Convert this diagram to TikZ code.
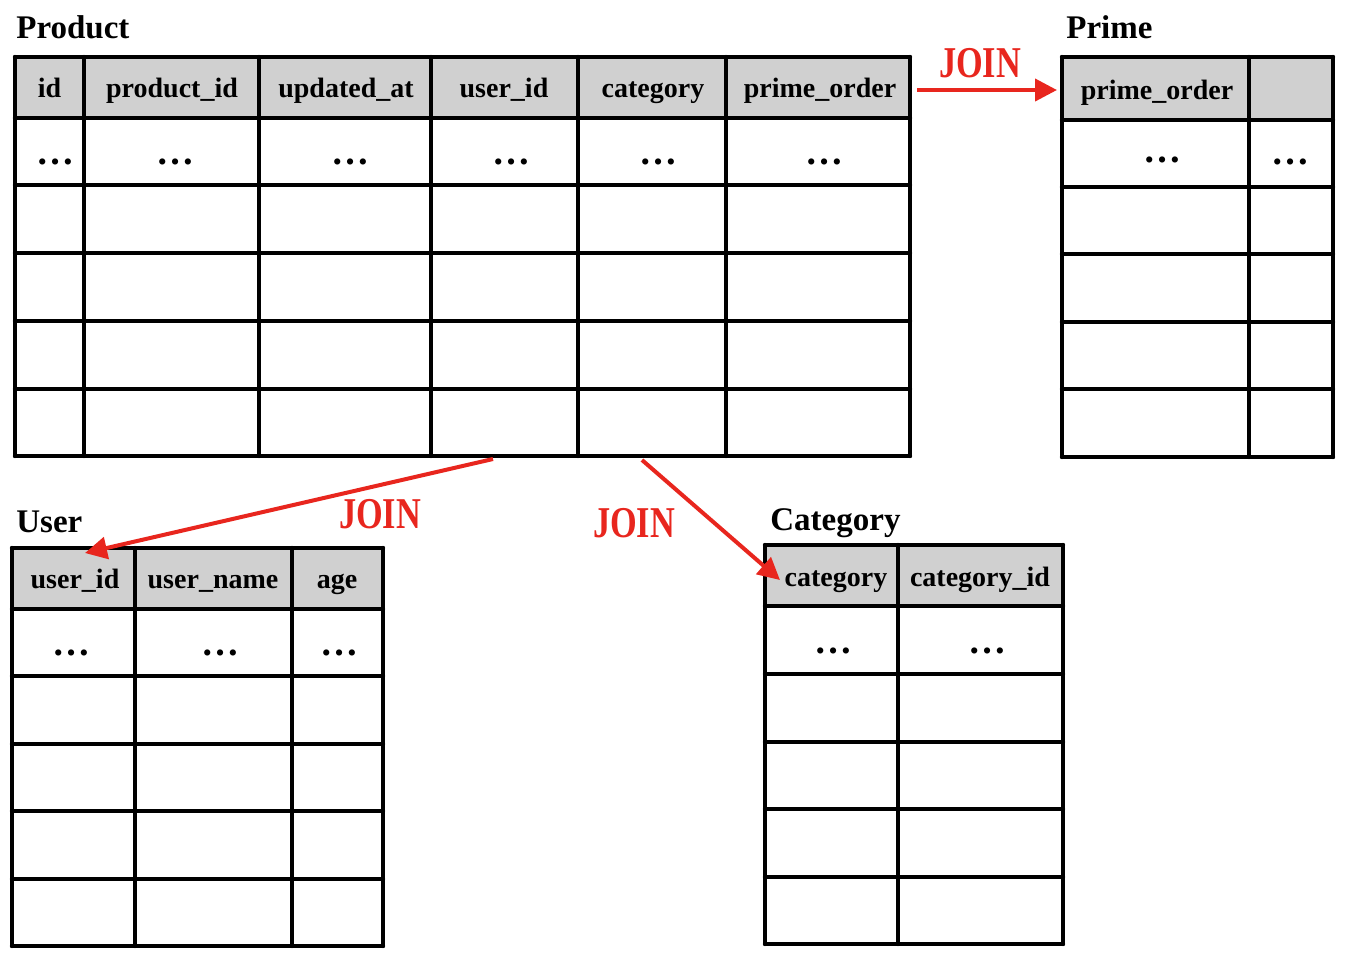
\documentclass[tikz,border=0pt]{standalone}
\usepackage{fontspec}
\setmainfont{Liberation Serif}
\usepackage{graphicx}
\usetikzlibrary{arrows.meta}
\definecolor{hdrgray}{HTML}{D0D0D0}
\definecolor{joinred}{HTML}{E8261E}
\begin{document}
\begin{tikzpicture}[x=0.5pt,y=-0.5pt,
  gridline/.style={line width=2.2pt,line cap=round,black},
  hdr/.style={font=\fontsize{14pt}{16pt}\selectfont\bfseries,inner sep=0pt,anchor=base},
  dots/.style={font=\fontsize{19pt}{20pt}\selectfont\bfseries,inner sep=0pt,anchor=base},
  ttl/.style={font=\fontsize{16.5pt}{18pt}\selectfont\bfseries,inner sep=0pt,anchor=base west},
  joinlbl/.style={font=\fontsize{22pt}{24pt}\selectfont\bfseries,text=joinred,inner sep=0pt,anchor=center},
  joinarrow/.style={draw=joinred,line width=2pt,-{Triangle[length=11pt,width=11pt]},fill=joinred}
]
\useasboundingbox (0,0) rectangle (1350,960);

% ---------- Product ----------
\fill[hdrgray] (15,57) rectangle (910,118);
\foreach \x in {15,84,259,431,578,726,910} \draw[gridline] (\x,57) -- (\x,456);
\foreach \y in {57,118,185,253,321,389,456} \draw[gridline] (15,\y) -- (910,\y);
\node[ttl] (tProduct) at (16,38) {Product};
\node[hdr] (p1) at (49.5,97) {id};
\node[hdr] (p2) at (172,97) {product\_id};
\node[hdr] (p3) at (346,97) {updated\_at};
\node[hdr] (p4) at (504,97) {user\_id};
\node[hdr] (p5) at (653,97) {category};
\node[hdr] (p6) at (820,97) {prime\_order};
\node[dots] (pd1) at (55,164) {…};
\node[dots] (pd2) at (175,164) {…};
\node[dots] (pd3) at (350,164) {…};
\node[dots] (pd4) at (511,164) {…};
\node[dots] (pd5) at (658,164) {…};
\node[dots] (pd6) at (824,164) {…};

% ---------- Prime ----------
\fill[hdrgray] (1062,57) rectangle (1333,120);
\foreach \x in {1062,1249,1333} \draw[gridline] (\x,57) -- (\x,457);
\foreach \y in {57,120,187,254,322,389,457} \draw[gridline] (1062,\y) -- (1333,\y);
\node[ttl] (tPrime) at (1066,38) {Prime};
\node[hdr] (r1) at (1157,99) {prime\_order};
\node[dots] (rd1) at (1162,162) {…};
\node[dots] (rd2) at (1290,164) {…};

% ---------- User ----------
\fill[hdrgray] (12,548) rectangle (383,609);
\foreach \x in {12,135,292,383} \draw[gridline] (\x,548) -- (\x,946);
\foreach \y in {548,609,676,744,811,879,946} \draw[gridline] (12,\y) -- (383,\y);
\node[ttl] (tUser) at (16,532) {User};
\node[hdr] (u1) at (75,588) {user\_id};
\node[hdr] (u2) at (213,588) {user\_name};
\node[hdr] (u3) at (337,588) {age};
\node[dots] (ud1) at (72,655) {…};
\node[dots] (ud2) at (220,655) {…};
\node[dots] (ud3) at (339,655) {…};

% ---------- Category ----------
\fill[hdrgray] (765,545) rectangle (1063,606);
\foreach \x in {765,898,1063} \draw[gridline] (\x,545) -- (\x,944);
\foreach \y in {545,606,674,742,809,877,944} \draw[gridline] (765,\y) -- (1063,\y);
\node[ttl] (tCategory) at (770,530) {Category};
\node[hdr] (c1) at (836,586) {category};
\node[hdr] (c2) at (980,586) {category\_id};
\node[dots] (cd1) at (833,653) {…};
\node[dots] (cd2) at (987,653) {…};

% ---------- JOIN arrows ----------
\coordinate (primeFrom) at (917,90);
\coordinate (primeTo) at (1057,90);
\coordinate (userFrom) at (493,459);
\coordinate (userTo) at (85,553);
\coordinate (catFrom) at (642,460);
\coordinate (catTo) at (780,580);
\draw[joinarrow] (primeFrom) -- (primeTo);
\draw[joinarrow] (userFrom) -- (userTo);
\draw[joinarrow] (catFrom) -- (catTo);
\node[joinlbl] (j1) at (980,63) {\scalebox{0.78}[1]{JOIN}};
\node[joinlbl] (j2) at (380,514) {\scalebox{0.78}[1]{JOIN}};
\node[joinlbl] (j3) at (634,523) {\scalebox{0.78}[1]{JOIN}};
\end{tikzpicture}
\end{document}
